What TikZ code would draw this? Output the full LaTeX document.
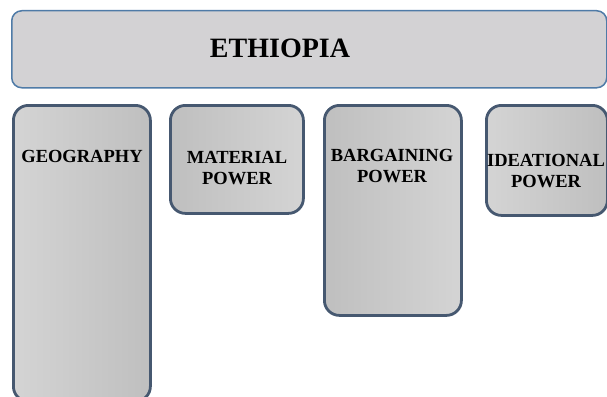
\documentclass[tikz,border=0pt]{standalone}
\usepackage{fontspec}
\setmainfont{Liberation Serif}
\definecolor{bannerline}{HTML}{4F7BA7}
\definecolor{boxline}{HTML}{465870}
\definecolor{lightgray}{HTML}{D3D2D4}
\definecolor{palegray}{HTML}{D4D4D4}
\definecolor{midgray}{HTML}{BFBFBF}

\begin{document}
\begin{tikzpicture}[x=1pt,y=-1pt,
  banner/.style={draw=bannerline,line width=1.5pt,fill=lightgray,rounded corners=10pt,inner sep=0pt,anchor=north west},
  powerbox/.style={draw=boxline,line width=2.8pt,rounded corners=15pt,inner sep=0pt,anchor=north west},
  powertext/.style={align=center,font=\fontsize{18.5}{21}\selectfont\bfseries,inner sep=0pt}]
\useasboundingbox (0,0) rectangle (607,396);
\clip (0,0) rectangle (607,396);
\node[banner,minimum width=595pt,minimum height=77pt] (ethiopia) at (11,10) {};
\node[font=\fontsize{28}{30}\selectfont\bfseries,inner sep=0pt] (ethiopiatext) at (280,48) {ETHIOPIA};
\node[powerbox,left color=palegray,right color=midgray,minimum width=137pt,minimum height=296pt] (geography) at (12,104) {};
\node[powerbox,left color=midgray,right color=palegray,minimum width=133pt,minimum height=108pt] (material) at (169,104) {};
\node[powerbox,left color=midgray,right color=palegray,minimum width=137pt,minimum height=210pt] (bargaining) at (323,104) {};
\node[powerbox,left color=palegray,right color=midgray,minimum width=121pt,minimum height=110pt] (ideational) at (485,104) {};
\node[powertext] (geographytext) at (82,156) {GEOGRAPHY};
\node[powertext] (materialtext) at (237,168) {MATERIAL\\POWER};
\node[powertext] (bargainingtext) at (392,166) {BARGAINING\\POWER};
\node[powertext] (ideationaltext) at (546,171) {IDEATIONAL\\POWER};
\end{tikzpicture}
\end{document}
